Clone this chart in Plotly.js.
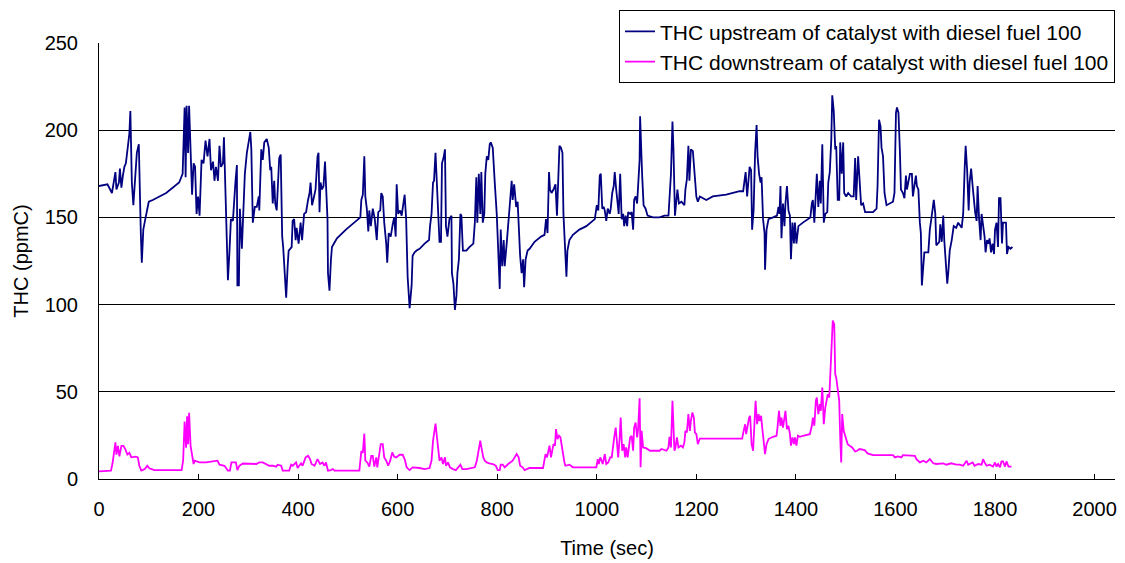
<!DOCTYPE html>
<html>
<head>
<meta charset="utf-8">
<script src="https://cdn.plot.ly/plotly-3.0.1.min.js"></script>
<style>html,body{margin:0;padding:0;background:#fff;}#chart{width:1125px;height:563px;}</style>
</head>
<body>
<div id="chart"></div>
<script>
// Upstream THC (ppmC) vs time (sec)
const upTime = [0,17,26,33,35,40,42,45,48,51,54,57,61,63,64,66,69,72,76,80,81,84,86,89,93,96,100,108,135,161,168,172,174,176,179,181,184,187,190,193,196,199,202,206,210,214,218,222,225,229,232,235,239,242,245,249,251,254,257,259,262,265,269,271,274,277,278,281,283,287,290,293,297,301,304,306,309,313,317,321,
322,326,329,332,337,341,344,346,349,352,354,357,360,362,365,368,370,373,376,379,381,387,389,392,395,397,401,405,408,412,416,420,423,425,428,432,435,439,441,443,445,448,451,454,456,459,460,463,466,468,474,478,496,517,525,527,530,533,535,538,541,543,546,550,554,558,561,565,567,570,573,577,579,582,586,590,593,596,598,601,605,608,612,614,617,620,624,628,630,634,638,644,
654,663,665,668,671,673,676,679,681,684,687,689,692,695,697,700,704,708,709,712,715,718,720,723,726,728,731,738,744,752,755,758,760,763,766,768,771,774,776,779,782,785,787,791,795,799,802,805,807,810,813,815,819,823,826,829,831,834,838,841,843,846,849,852,854,857,861,865,875,888,895,898,901,904,906,909,913,917,920,923,925,928,931,933,936,939,941,945,952,965,
979,996,1000,1003,1006,1008,1011,1014,1016,1019,1022,1026,1028,1031,1034,1036,1039,1042,1044,1047,1050,1053,1055,1058,1061,1063,1067,1070,1073,1075,1078,1081,1083,1086,1087,1089,1091,1094,1098,1102,1113,1126,1136,1144,1146,1149,1152,1154,1157,1160,1162,1165,1170,1176,1178,1181,1184,1186,1189,1193,1197,1200,1203,1207,1220,1233,1260,1287,
1294,1296,1299,1302,1304,1307,1310,1312,1315,1318,1321,1323,1326,1329,1331,1334,1337,1338,1341,1345,1354,1362,1365,1367,1369,1371,1374,1377,1379,1382,1385,1388,1390,1393,1396,1398,1401,1405,1414,1424,1429,1432,1434,1437,1440,1442,1445,1448,1450,1453,1456,1459,1463,1465,1468,1471,1473,1476,1479,1481,1484,1487,1489,1492,1495,1497,1501,1505,1511,1516,1519,1521,1525,1528,1531,1535,1539,1555,1562,1564,1567,1570,1572,1575,1578,1582,1589,1595,1598,1601,1603,1606,1609,
1611,1615,1618,1621,1623,1629,1633,1635,1638,1641,1643,1646,1649,1651,1653,1656,1658,1666,1669,1672,1674,1677,1680,1682,1688,1690,1693,1696,1698,1701,1704,1706,1709,1713,1717,1722,1726,1733,1736,1739,1741,1744,1747,1749,1752,1755,1757,1760,1763,1765,1768,1771,1773,1776,1779,1781,1784,1787,1789,1792,1795,1798,1800,1803,1806,1808,1811,1814,1816,1822,1824,1827,1831,1835];
const upTHC = [168,169,164,176,166,170,178,167,174,179,181,189,198,211,196,170,157,168,187,192,173,141,124,143,149,154,159,160,164,170,175,213,173,214,187,214,181,163,181,179,152,162,151,183,181,194,185,195,177,182,171,179,171,191,179,181,196,160,133,114,130,149,148,158,170,180,111,111,155,132,156,175,187,194,199,189,147,156,156,162,
154,189,183,193,195,190,177,179,158,171,158,154,175,184,186,139,133,114,104,122,131,133,148,149,137,144,135,147,137,152,153,160,164,170,157,162,166,185,187,153,170,166,168,182,170,149,118,108,126,133,136,138,143,148,150,160,163,185,162,155,142,154,145,155,149,137,153,154,164,162,147,135,124,141,139,146,150,139,169,152,154,151,158,163,149,116,98,111,128,130,131,132,
135,137,145,152,170,171,187,166,162,136,136,181,184,189,145,139,149,151,118,112,97,105,118,126,152,151,131,131,133,135,147,173,147,175,152,176,147,152,175,185,183,192,193,190,170,152,131,109,143,122,137,122,135,147,160,171,160,169,156,159,145,128,118,126,110,126,131,132,136,139,140,149,141,176,166,164,166,169,151,179,191,190,187,152,135,116,131,137,140,143,
145,149,157,154,174,175,155,156,154,148,155,152,155,164,168,176,166,154,152,175,149,152,145,151,145,153,152,153,143,160,162,158,168,183,208,183,175,157,155,151,150,150,151,151,164,175,205,189,151,159,166,158,159,157,166,172,191,171,189,188,175,162,159,162,160,162,163,165,
165,170,176,162,170,179,177,143,154,187,203,185,175,170,173,149,141,120,143,149,150,151,156,152,168,138,158,145,158,168,154,151,126,147,135,147,135,145,147,149,150,158,160,147,162,175,156,171,158,192,147,152,153,170,176,194,220,211,189,191,160,160,193,175,193,164,162,164,162,162,184,160,185,168,157,158,153,153,155,168,206,202,190,185,164,157,158,159,164,210,213,210,187,
166,164,161,174,166,175,175,162,168,174,168,166,147,141,111,126,130,130,143,149,155,160,152,134,136,146,136,151,137,126,112,118,131,137,145,144,147,144,152,178,191,177,154,170,178,168,160,153,148,168,149,137,152,145,139,130,137,135,138,130,135,129,143,147,133,161,161,135,147,147,129,133,132,133];

// Downstream THC (ppmC) vs time (sec)
const downTime = [0,24,27,31,33,35,38,41,45,49,53,57,61,65,74,78,81,85,92,97,101,111,166,169,172,175,177,179,181,184,187,190,192,202,215,228,238,242,252,259,263,266,275,278,282,289,302,316,322,329,342,349,356,359,366,369,382,
386,389,396,399,406,409,415,420,424,427,433,439,444,449,453,456,460,466,470,473,523,527,530,533,535,539,543,547,550,553,557,559,563,566,570,573,577,581,585,589,593,597,604,610,614,618,624,630,644,654,664,668,671,673,676,679,681,684,688,691,695,697,701,705,711,717,726,730,738,751,755,759,762,
766,767,770,772,775,779,784,791,797,801,805,807,811,815,822,827,831,835,839,843,846,851,855,865,892,894,897,900,902,905,908,910,913,916,918,921,924,927,929,932,935,937,945,952,999,1002,1004,1007,1010,1012,1016,1019,1023,1027,1030,1032,1035,1038,1040,1043,1046,1048,1051,1054,1057,1059,1062,1065,1067,1070,1073,1075,1078,1081,1083,1086,1088,1090,1093,1099,1107,1126,1130,1140,1144,1146,
1149,1152,1154,1156,1158,1161,1164,1169,1173,1176,1178,1181,1184,1187,1189,1192,1195,1197,1200,1203,1207,1292,1295,1298,1300,1303,1306,1308,1311,1314,1317,1319,1322,1325,1327,1330,1333,1335,1338,1341,1345,1354,1361,1363,1366,1369,1371,1374,1377,1379,1382,1385,1388,1390,1393,1396,1398,1401,1404,1408,1414,1421,1428,1432,1434,1437,1440,1442,1445,1448,1450,1453,1456,1459,1461,1464,1467,1469,1472,1474,1477,1479,1481,1484,1487,1489,1491,1493,1496,1500,1504,1508,1513,1519,1523,1528,
1538,1544,1555,1595,1599,1605,1612,1615,1629,1639,1642,1649,1656,1662,1669,1676,1682,1696,1702,1712,1722,1729,1736,1743,1746,1749,1755,1759,1766,1773,1776,1779,1783,1789,1796,1800,1803,1806,1810,1813,1816,1820,1823,1827,1833];
const downTHC = [4.4,4.8,8.6,16,21,14,19,13,19,19,17,14,15,12.4,12.8,12.4,7.6,4.8,5.7,7.6,6.1,5.1,5.1,10.5,33,18,36,20,38,19,12.4,8.6,10.5,9.5,9.5,10.1,10.5,8.2,7.6,4.8,4.8,9.5,9.5,5.1,7.6,8.9,8.6,8.6,9.5,9.5,7.6,7.6,7.1,8.2,7.6,4.8,4.8,
8.2,7.6,9.5,6.3,9,7.6,12.4,13.3,11.4,8.6,7.6,11.4,8.6,9.5,7.6,9.5,4.8,5.1,5.7,4.8,4.8,16,15,26,10.5,9.5,7.1,13.3,13.3,7.1,12.4,6.7,14.3,20,20,12.4,10.5,7.6,10.5,15.2,12.8,12.4,13.9,13.9,11.4,6.7,5.1,6.7,6.3,5.7,6.3,10.5,21.9,25.7,31.8,23.8,18.1,10.5,12.4,8.6,12.4,7.6,9.5,6.7,5.7,5.1,8.2,5.7,5.7,6.7,6.7,10.5,15.2,
22,20,14.3,12.4,10.5,9.5,9,8.6,7.6,5.1,5.1,8.2,8.2,6.7,8.6,9.5,10.5,12.4,14.3,12.4,7.6,6.7,5.1,6.3,6.3,9.5,14.3,12.4,15.2,19.1,12.4,15.2,20,19.1,28.6,22.9,24.8,23.8,20,12.4,9.5,7.6,8.2,6.7,6.7,11.4,8.6,12.4,9.5,8.6,14.3,8.6,9.5,12.4,12.4,18.1,23.8,29.5,20,12.4,23.8,35.2,16.2,20,12.4,18.1,12.4,20,23.8,24.8,16.2,29.5,32.4,23.8,28.6,46.3,6.7,27.6,18.1,17.7,16.2,16.2,17.2,16.2,18.1,24.2,
18.1,44.8,30.5,16.2,18.1,23.8,18.1,19.1,18.1,21,27.6,26.7,37.2,27.6,33.3,38.1,35.2,26.7,25.7,20,23.2,23.2,27.6,31.4,25.7,31.4,35.2,36.2,20,16.2,35.2,44.8,31.4,37.2,33.3,36.2,27.6,21.9,14.3,20,22.9,24.2,24.8,29.5,39.1,30.5,35.2,29.5,36.2,39.1,28.6,30.5,25.7,19.1,23.8,20,23.8,19.1,24.8,24.2,24.8,25.3,25.7,30.5,35.2,30.5,44.8,46.7,37.2,42.9,39.1,52.4,31.4,41,44.8,48.6,46.7,59.1,80.9,90.9,88.6,60,58.1,50.5,44.8,23.8,9.5,37.2,27.6,23.8,20,19.1,18.1,15.8,16.2,17.2,
16.6,14.7,13.7,13.7,12.4,13,12.4,13.7,13.7,13.3,11.4,9.5,10.5,9.5,11.4,9,8.6,9,8.2,9,8.2,8.2,7.6,10.5,8.2,8.6,9.5,7.6,8.6,8.2,11.4,9.5,7.6,8.2,7.1,9.5,7.1,8.6,6.7,10.1,10.1,7.1,10.1,7.1,7.1];

const seriesNames = ["THC upstream of catalyst with diesel fuel 100", "THC downstream of catalyst with diesel fuel 100"];
const xTicks = [0,200,400,600,800,1000,1200,1400,1600,1800,2000];
const yTicks = [0,50,100,150,200,250];

const FONT = "Liberation Sans, Arial, Helvetica, sans-serif";

const traces = [
  {x: upTime, y: upTHC, type: "scatter", mode: "lines", name: seriesNames[0],
   line: {color: "#000080", width: 1.8}},
  {x: downTime, y: downTHC, type: "scatter", mode: "lines", name: seriesNames[1],
   line: {color: "#FF00FF", width: 1.8}}
];

const layout = {
  width: 1125, height: 563,
  margin: {l: 99, r: 10, t: 41, b: 84, pad: 0},
  paper_bgcolor: "#ffffff", plot_bgcolor: "#ffffff",
  font: {family: FONT, size: 20, color: "#000"},
  showlegend: true,
  legend: {x: 1.0, xanchor: "right", y: 1.0753, yanchor: "top",
    bgcolor: "#ffffff", bordercolor: "#000", borderwidth: 1,
    font: {family: FONT, size: 21, color: "#000"}},
  xaxis: {range: [0, 2041], tickvals: xTicks, ticktext: xTicks.map(String),
    ticks: "inside", ticklen: 5, tickcolor: "#000", showline: true, linecolor: "#000", linewidth: 1,
    showgrid: false, zeroline: false, mirror: false, ticklabelstandoff: 12,
    title: {text: "Time (sec)", font: {family: FONT, size: 20}, standoff: 21}},
  yaxis: {range: [0, 250], tickvals: yTicks, ticktext: yTicks.map(String),
    ticks: "inside", ticklen: 5, tickcolor: "#000", showline: true, linecolor: "#000", linewidth: 1,
    mirror: false, showgrid: true, gridcolor: "#000", gridwidth: 1, zeroline: false, ticklabelstandoff: 16,
    title: {text: "THC (ppmC)", font: {family: FONT, size: 20}, standoff: 10}}
};

Plotly.newPlot("chart", traces, layout, {displayModeBar: false, staticPlot: true});
</script>
</body>
</html>
